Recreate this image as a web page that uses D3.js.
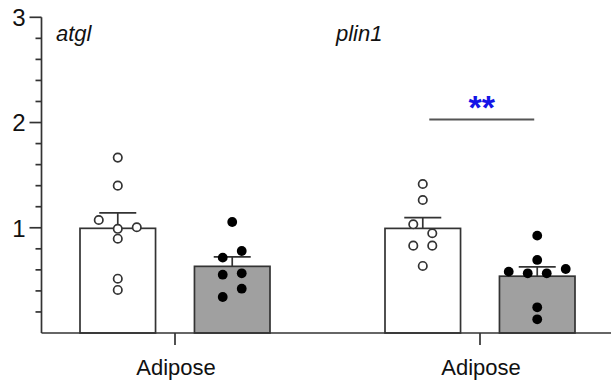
<!DOCTYPE html>
<html>
<head>
<meta charset="utf-8">
<script src="https://cdn.jsdelivr.net/npm/d3@7"></script>
<style>
  html, body { margin: 0; padding: 0; background: #fff; }
  svg { display: block; font-family: "Liberation Sans", Arial, sans-serif; }
</style>
</head>
<body>
<svg id="chart" width="611" height="383"></svg>
<script>
// Relative expression, two genes measured in adipose tissue
const genes = ["atgl", "plin1"];
const tissue = "Adipose";
const conditions = ["control", "treated"];

// Individual animals (fold change); order within a row sets left-to-right placement
const atglControl  = [1.667, 1.40, 1.074, 0.99, 1.005, 0.896, 0.516, 0.409];
const atglTreated  = [1.055, 0.716, 0.779, 0.554, 0.567, 0.342, 0.421];
const plin1Control = [1.416, 1.264, 1.033, 0.948, 0.83, 0.83, 0.637];
const plin1Treated = [0.925, 0.694, 0.583, 0.567, 0.567, 0.608, 0.244, 0.130];

const yMajorTicks = [1, 2, 3];
const yMinorTicks = [0.2, 0.4, 0.6, 0.8, 1.2, 1.4, 1.6, 1.8, 2.2, 2.4, 2.6, 2.8];

// Significance annotation for plin1
const sigGene = "plin1";
const sigLabel = "**";
const sigLevel = 2.03;

const series = [
  { gene: "atgl",  condition: "control", values: atglControl },
  { gene: "atgl",  condition: "treated", values: atglTreated },
  { gene: "plin1", condition: "control", values: plin1Control },
  { gene: "plin1", condition: "treated", values: plin1Treated }
];

const svg = d3.select("#chart");
const ink = "#333";

const y = d3.scaleLinear().domain([0, 3]).range([333, 17.3]);
const xGroup = d3.scalePoint().domain(genes).range([175, 480]);
const xSub = d3.scaleBand().domain(conditions).range([-95, 95]).paddingInner(0.34);
const bw = xSub.bandwidth();
const center = (g, c) => xGroup(g) + xSub(c) + bw / 2;

const fills = { control: "#ffffff", treated: "#a0a0a0" };

// Stats
series.forEach(s => {
  s.mean = d3.mean(s.values);
  s.sem = d3.deviation(s.values) / Math.sqrt(s.values.length);
});

// Scatter layout: group dots into rows from the bottom up, spread each row evenly
const rowGap = 9.5, laneStep = 19;
function swarm(values) {
  const pts = values.map((v, i) => ({ v, i, py: y(v) }));
  const order = pts.slice().sort((a, b) => b.py - a.py || a.i - b.i);
  const rows = [];
  let cur = null;
  for (const p of order) {
    if (cur && cur.start - p.py < rowGap) cur.items.push(p);
    else { cur = { start: p.py, items: [p] }; rows.push(cur); }
  }
  rows.forEach(r => {
    r.items.sort((a, b) => a.i - b.i);
    const n = r.items.length;
    r.items.forEach((p, k) => { p.dx = (k - (n - 1) / 2) * laneStep; });
  });
  return pts;
}

// Bars
svg.append("g").selectAll("rect")
  .data(series).join("rect")
  .attr("x", d => xGroup(d.gene) + xSub(d.condition))
  .attr("y", d => y(d.mean))
  .attr("width", bw)
  .attr("height", d => y(0) - y(d.mean))
  .attr("fill", d => fills[d.condition])
  .attr("stroke", ink)
  .attr("stroke-width", 1.7);

// Error bars (mean + SEM)
const capW = 37;
const eb = svg.append("g").attr("stroke", ink).attr("stroke-width", 1.7);
series.forEach(s => {
  const cx = center(s.gene, s.condition);
  eb.append("line").attr("x1", cx).attr("x2", cx)
    .attr("y1", y(s.mean)).attr("y2", y(s.mean + s.sem));
  eb.append("line").attr("x1", cx - capW / 2).attr("x2", cx + capW / 2)
    .attr("y1", y(s.mean + s.sem)).attr("y2", y(s.mean + s.sem));
});

// Individual points
series.forEach(s => {
  const cx = center(s.gene, s.condition);
  const open = s.condition === "control";
  svg.append("g").selectAll("circle")
    .data(swarm(s.values)).join("circle")
    .attr("cx", d => cx + d.dx)
    .attr("cy", d => d.py)
    .attr("r", open ? 4.2 : 4.9)
    .attr("fill", open ? "#fff" : "#000")
    .attr("stroke", open ? ink : "none")
    .attr("stroke-width", 1.7);
});

// Y axis
const yAxis = svg.append("g").attr("transform", "translate(41.5,0)");
yAxis.append("line").attr("x1", 0).attr("x2", 0)
  .attr("y1", y(3)).attr("y2", y(0))
  .attr("stroke", ink).attr("stroke-width", 1.7);
yAxis.selectAll(".minor").data(yMinorTicks).join("line")
  .attr("class", "minor")
  .attr("x1", -6).attr("x2", 0)
  .attr("y1", d => y(d)).attr("y2", d => y(d))
  .attr("stroke", ink).attr("stroke-width", 1.7);
yAxis.selectAll(".major").data(yMajorTicks).join("line")
  .attr("class", "major")
  .attr("x1", -12).attr("x2", 0)
  .attr("y1", d => y(d)).attr("y2", d => y(d))
  .attr("stroke", ink).attr("stroke-width", 1.7);
yAxis.selectAll("text").data(yMajorTicks).join("text")
  .attr("x", -16)
  .attr("y", d => y(d))
  .attr("dy", "0.37em")
  .attr("text-anchor", "end")
  .attr("font-size", 24)
  .attr("fill", "#111")
  .text(d => d);

// X axis
const xAxis = svg.append("g");
xAxis.append("line").attr("x1", 41.5).attr("x2", 611)
  .attr("y1", y(0)).attr("y2", y(0))
  .attr("stroke", ink).attr("stroke-width", 1.7);
xAxis.selectAll(".tick").data(genes).join("line")
  .attr("class", "tick")
  .attr("x1", d => xGroup(d)).attr("x2", d => xGroup(d))
  .attr("y1", y(0)).attr("y2", y(0) + 12)
  .attr("stroke", ink).attr("stroke-width", 1.7);
xAxis.selectAll("text").data(genes).join("text")
  .attr("x", d => xGroup(d) + 1)
  .attr("y", 375)
  .attr("text-anchor", "middle")
  .attr("font-size", 22)
  .attr("fill", "#111")
  .text(tissue);

// Gene names
const geneLabelX = { atgl: 56, plin1: 336 };
svg.selectAll(".gene").data(genes).join("text")
  .attr("class", "gene")
  .attr("x", d => geneLabelX[d])
  .attr("y", 41)
  .attr("font-size", 22)
  .attr("font-style", "italic")
  .attr("fill", "#111")
  .text(d => d);

// Significance bar
const sx1 = center(sigGene, "control") + 6.5;
const sx2 = center(sigGene, "treated") - 3;
svg.append("line")
  .attr("x1", sx1).attr("x2", sx2)
  .attr("y1", y(sigLevel)).attr("y2", y(sigLevel))
  .attr("stroke", "#555").attr("stroke-width", 2);
svg.append("text")
  .attr("x", (sx1 + sx2) / 2)
  .attr("y", y(sigLevel) - 0.5)
  .attr("text-anchor", "middle")
  .attr("font-size", 34)
  .attr("font-weight", "bold")
  .attr("fill", "#1414e6")
  .text(sigLabel);
</script>
</body>
</html>
